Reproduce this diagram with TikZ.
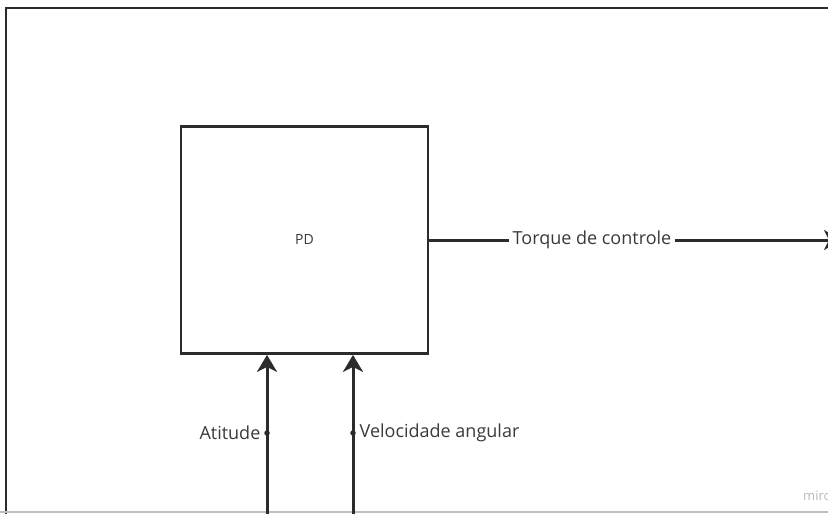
\documentclass[tikz,border=0pt]{standalone}
\usepackage{fontspec}
\setmainfont{Open Sans}
\usetikzlibrary{arrows.meta,positioning}
\definecolor{ink}{HTML}{2B2B2B}
\definecolor{txt}{HTML}{3A3A3A}

\begin{document}
\begin{tikzpicture}[x=1pt, y=-1pt, >={Stealth[length=17pt,width=20pt,inset=5pt]},
    block/.style={draw=ink, line width=2.8pt, minimum width=247pt, minimum height=227pt, inner sep=0pt},
    signal/.style={draw=ink, line width=3pt},
    lbl/.style={text=txt, font=\fontsize{18}{21}\selectfont, inner sep=3.5pt},
    tap/.style={circle, fill=ink, inner sep=0pt, minimum size=5.5pt}]
    \useasboundingbox (0,0) rectangle (828,514);
    \clip (0,0) rectangle (828,514);

    % frame
    \draw[draw=ink, line width=2.5pt] (6,516) -- (6,8) -- (830,8);
    \draw[draw=black!25, line width=1.4pt] (0,512) -- (828,512);
    \node[text=black!28, font=\fontsize{13}{14}\selectfont, anchor=west, inner sep=0pt] (wm) at (803,496) {miro};

    % controller
    \node[block] (pd) at (304.5,240) {\fontsize{14}{16}\selectfont\color{txt}PD};

    % output
    \node[lbl] (torque) at (592,240) {Torque de controle};
    \coordinate (out) at (841,240);
    \draw[signal] (pd.east) -- (torque.west);
    \draw[signal, ->] (torque.east) -- (out);

    % inputs
    \coordinate (att_in) at (267,520);
    \coordinate (vel_in) at (353,520);
    \draw[signal, ->] (att_in) -- (att_in |- pd.south);
    \draw[signal, ->] (vel_in) -- (vel_in |- pd.south);
    \node[tap] (att_tap) at (267,433) {};
    \node[tap] (vel_tap) at (353,433) {};
    \node[lbl, left=0pt of att_tap] (att) {Atitude};
    \node[lbl, right=0pt of vel_tap] (vel) {Velocidade angular};
\end{tikzpicture}
\end{document}
